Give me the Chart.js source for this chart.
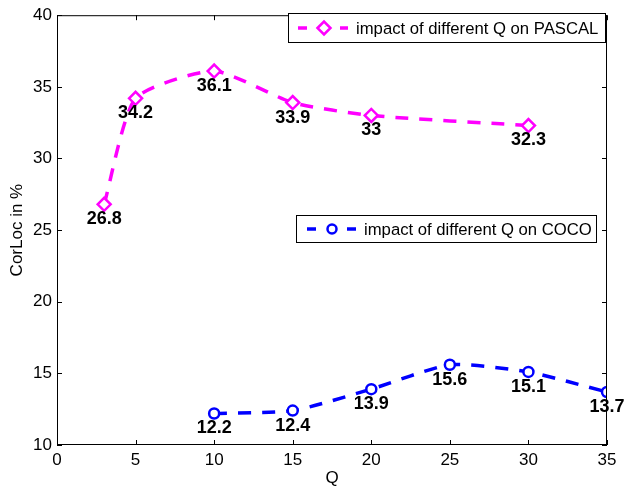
<!DOCTYPE html>
<html>
<head>
<meta charset="utf-8">
<script src="https://cdn.jsdelivr.net/npm/chart.js@4.4.1/dist/chart.umd.min.js"></script>
<style>
  html, body { margin: 0; padding: 0; background: #fff; }
  #wrap { width: 627px; height: 487px; }
</style>
</head>
<body>
<div id="wrap"><canvas id="grafico"></canvas></div>
<script>
// dados
const qPascal = [3, 5, 10, 15, 20, 30];
const corlocPascal = [26.8, 34.2, 36.1, 33.9, 33, 32.3];
const qCoco = [10, 15, 20, 25, 30, 35];
const corlocCoco = [12.2, 12.4, 13.9, 15.6, 15.1, 13.7];
const xTicks = [0, 5, 10, 15, 20, 25, 30, 35];
const yTicks = [10, 15, 20, 25, 30, 35, 40];
const nomesSeries = ['impact of different Q on PASCAL', 'impact of different Q on COCO'];

const FONTE = '"Liberation Sans", Arial, Helvetica, sans-serif';
const MAGENTA = '#ff00ff';
const AZUL = '#0000ff';

// moldura, ticks internos, rotulos e as duas legendas
const extras = {
  id: 'extras',
  afterDatasetsDraw(chart) {
    const ctx = chart.ctx;
    const a = chart.chartArea;
    const sx = chart.scales.x, sy = chart.scales.y;
    ctx.save();
    ctx.strokeStyle = '#000';
    ctx.lineWidth = 1;
    ctx.setLineDash([]);
    ctx.strokeRect(a.left + 0.5, a.top + 0.5, a.right - a.left - 1, a.bottom - a.top - 1);
    ctx.beginPath();
    xTicks.forEach(v => {
      const px = Math.round(sx.getPixelForValue(v)) + 0.5;
      ctx.moveTo(px, a.bottom); ctx.lineTo(px, a.bottom - 5);
      ctx.moveTo(px, a.top); ctx.lineTo(px, a.top + 5);
    });
    yTicks.forEach(v => {
      const py = Math.round(sy.getPixelForValue(v)) + 0.5;
      ctx.moveTo(a.left, py); ctx.lineTo(a.left + 5, py);
      ctx.moveTo(a.right, py); ctx.lineTo(a.right - 5, py);
    });
    ctx.stroke();

    // valores em negrito abaixo de cada ponto
    ctx.fillStyle = '#000';
    ctx.font = 'bold 18px ' + FONTE;
    ctx.textAlign = 'center';
    ctx.textBaseline = 'middle';
    chart.data.datasets.forEach((ds, i) => {
      chart.getDatasetMeta(i).data.forEach((pt, j) => {
        ctx.fillText(String(ds.data[j].y), pt.x, pt.y + 15);
      });
    });

    // legendas separadas
    desenhaLegenda(ctx, 288, 13, 317, 29, nomesSeries[0], MAGENTA, 'rectRot', 6.5, [298, 307, 324, 340, 348, 356]);
    desenhaLegenda(ctx, 296, 215, 300, 27, nomesSeries[1], AZUL, 'circle', 4.5, [307, 316, 332, 347, 356, 364]);
    ctx.restore();
  }
};

function desenhaLegenda(ctx, x, y, w, h, texto, cor, estilo, raio, pos) {
  ctx.save();
  ctx.fillStyle = '#fff';
  ctx.fillRect(x, y, w, h);
  ctx.strokeStyle = '#000';
  ctx.lineWidth = 1;
  ctx.strokeRect(x + 0.5, y + 0.5, w, h);
  const cy = y + h / 2 + 0.5;
  ctx.strokeStyle = cor;
  ctx.lineWidth = 3.5;
  ctx.beginPath();
  ctx.moveTo(pos[0], cy); ctx.lineTo(pos[1], cy);
  ctx.moveTo(pos[3], cy); ctx.lineTo(pos[4], cy);
  ctx.stroke();
  ctx.fillStyle = '#fff';
  ctx.lineWidth = 2.5;
  Chart.helpers.drawPoint(ctx, { pointStyle: estilo, radius: raio, borderWidth: 2.5 }, pos[2], cy);
  ctx.fillStyle = '#000';
  ctx.font = '16.7px ' + FONTE;
  ctx.textAlign = 'left';
  ctx.textBaseline = 'middle';
  ctx.fillText(texto, pos[5], cy + 1);
  ctx.restore();
}

const ctx1 = document.getElementById('grafico').getContext('2d');
new Chart(ctx1, {
  type: 'line',
  data: {
    datasets: [
      {
        label: nomesSeries[0],
        data: qPascal.map((q, i) => ({ x: q, y: corlocPascal[i] })),
        borderColor: MAGENTA,
        backgroundColor: '#fff',
        borderWidth: 3.5,
        borderDash: [13, 11],
        tension: 0.2,
        pointStyle: 'rectRot',
        pointRadius: 6.5,
        pointBorderWidth: 2.5,
        pointBorderColor: MAGENTA,
        pointBackgroundColor: '#fff'
      },
      {
        label: nomesSeries[1],
        data: qCoco.map((q, i) => ({ x: q, y: corlocCoco[i] })),
        borderColor: AZUL,
        backgroundColor: '#fff',
        borderWidth: 3.5,
        borderDash: [13, 11],
        tension: 0.2,
        pointStyle: 'circle',
        pointRadius: 5,
        pointBorderWidth: 2.5,
        pointBorderColor: AZUL,
        pointBackgroundColor: '#fff'
      }
    ]
  },
  options: {
    responsive: true,
    maintainAspectRatio: false,
    animation: false,
    layout: { padding: { left: 0, right: 20, top: 12, bottom: 0 } },
    plugins: {
      legend: { display: false },
      tooltip: { enabled: false }
    },
    scales: {
      x: {
        type: 'linear',
        min: 0,
        max: 35,
        afterBuildTicks: s => { s.ticks = xTicks.map(v => ({ value: v })); },
        afterFit: s => { s.height = 42; },
        grid: { display: false, drawTicks: false },
        border: { display: false },
        ticks: { color: '#000', padding: 5, font: { family: FONTE, size: 17 } },
        title: { display: true, text: 'Q', color: '#000', padding: { top: 0, bottom: -2 }, font: { family: FONTE, size: 17 } }
      },
      y: {
        min: 10,
        max: 40,
        afterBuildTicks: s => { s.ticks = yTicks.map(v => ({ value: v })); },
        afterFit: s => { s.width = 57; },
        grid: { display: false, drawTicks: false },
        border: { display: false },
        ticks: { color: '#000', padding: 5, font: { family: FONTE, size: 17 } },
        title: { display: true, text: 'CorLoc in %', color: '#000', padding: { top: 7, bottom: 0 }, font: { family: FONTE, size: 17 } }
      }
    }
  },
  plugins: [extras]
});
</script>
</body>
</html>
